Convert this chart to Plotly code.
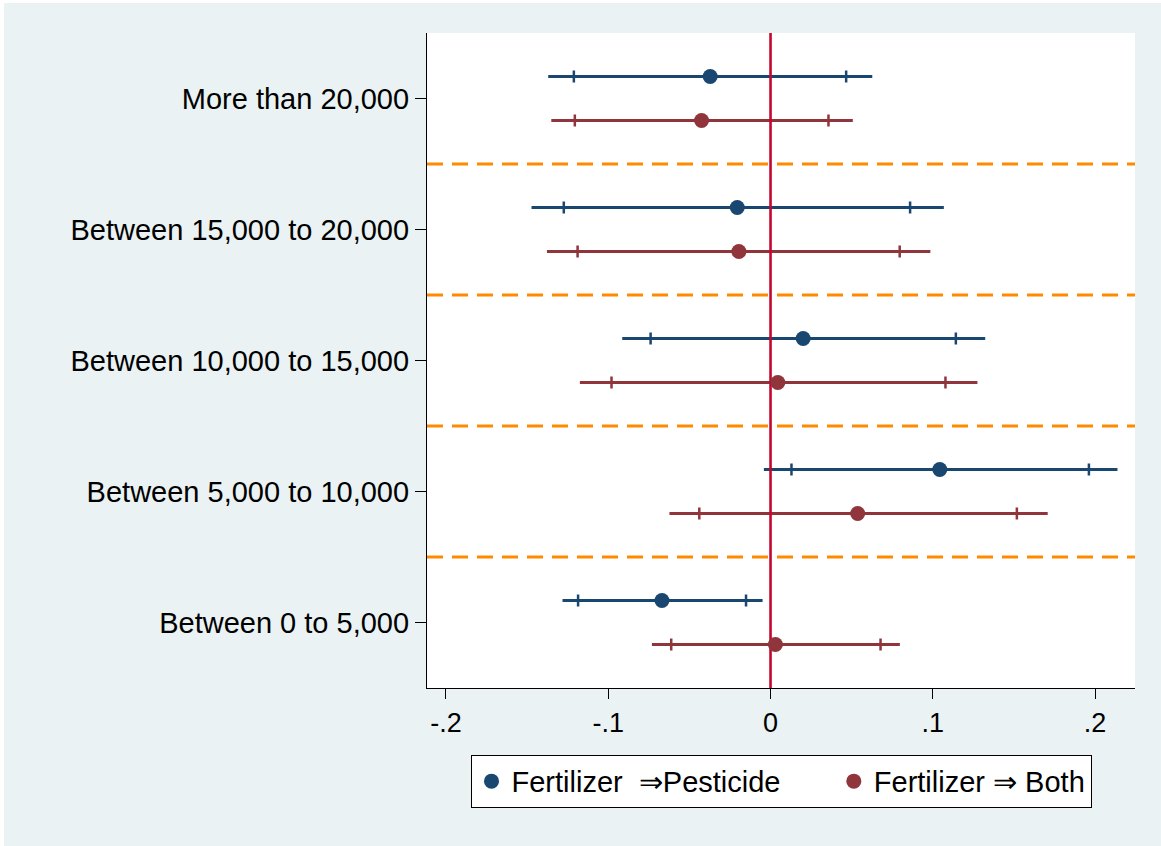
import plotly.graph_objects as go

# Income groups (bottom to top) and their axis positions
groups = ["Between 0 to 5,000", "Between 5,000 to 10,000", "Between 10,000 to 15,000",
          "Between 15,000 to 20,000", "More than 20,000"]
ypos = [1, 2, 3, 4, 5]

# Fertilizer => Pesticide: point estimate, 95% and 90% confidence bounds
pest_est = [-0.0669, 0.1043, 0.0201, -0.0205, -0.0372]
pest_lo95 = [-0.1282, -0.0041, -0.0914, -0.1473, -0.1370]
pest_hi95 = [-0.0049, 0.2138, 0.1323, 0.1068, 0.0627]
pest_lo90 = [-0.1186, 0.0129, -0.0739, -0.1274, -0.1212]
pest_hi90 = [-0.0151, 0.1962, 0.1142, 0.0860, 0.0466]

# Fertilizer => Both
both_est = [0.0030, 0.0537, 0.0045, -0.0195, -0.0425]
both_lo95 = [-0.0731, -0.0623, -0.1175, -0.1378, -0.1351]
both_hi95 = [0.0797, 0.1708, 0.1275, 0.0985, 0.0507]
both_lo90 = [-0.0612, -0.0439, -0.0980, -0.1189, -0.1206]
both_hi90 = [0.0678, 0.1518, 0.1078, 0.0796, 0.0357]

x_ticks = [-0.2, -0.1, 0, 0.1, 0.2]
x_ticktext = ["-.2", "-.1", "0", ".1", ".2"]

BLUE = "#1a476f"
RED = "#90353b"
OFFSET = 0.168
FONT = "Liberation Sans, Arial, sans-serif"

fig = go.Figure()


def add_series(est, lo95, hi95, lo90, hi90, color, shift):
    y = [p + shift for p in ypos]
    # 95% interval: plain line
    fig.add_trace(go.Scatter(
        x=est, y=y, mode="none", showlegend=False, hoverinfo="skip",
        error_x=dict(type="data", symmetric=False,
                     array=[h - e for h, e in zip(hi95, est)],
                     arrayminus=[e - l for e, l in zip(est, lo95)],
                     color=color, thickness=3, width=0)))
    # 90% interval: capped with short vertical ticks
    fig.add_trace(go.Scatter(
        x=est, y=y, mode="none", showlegend=False, hoverinfo="skip",
        error_x=dict(type="data", symmetric=False,
                     array=[h - e for h, e in zip(hi90, est)],
                     arrayminus=[e - l for e, l in zip(est, lo90)],
                     color=color, thickness=2.5, width=6)))
    return y


y_pest = add_series(pest_est, pest_lo95, pest_hi95, pest_lo90, pest_hi90, BLUE, OFFSET)
y_both = add_series(both_est, both_lo95, both_hi95, both_lo90, both_hi90, RED, -OFFSET)

# Reference line at zero
fig.add_trace(go.Scatter(x=[0, 0], y=[0.5, 5.5], mode="lines", showlegend=False,
                         hoverinfo="skip", line=dict(color="#C4072F", width=2.6)))

# Point estimates (trailing spaces widen the gap between the two legend entries)
fig.add_trace(go.Scatter(x=pest_est, y=y_pest, mode="markers",
                         name="Fertilizer  ⇒Pesticide      ",
                         marker=dict(color=BLUE, size=15)))
fig.add_trace(go.Scatter(x=both_est, y=y_both, mode="markers", name="Fertilizer ⇒ Both",
                         marker=dict(color=RED, size=15)))

# Dashed separators between groups
shapes = []
for b in [1.5, 2.5, 3.5, 4.5]:
    shapes.append(dict(type="line", xref="paper", yref="y", x0=0, x1=1, y0=b, y1=b,
                       line=dict(color="#FF8A00", width=3, dash="16px,9px"), layer="below"))

# Thin white edge along the top and left of the canvas
shapes.append(dict(type="rect", xref="paper", yref="paper", x0=-0.6031, x1=1.04,
                   y0=1.0458, y1=1.06, fillcolor="white", line=dict(width=0), layer="below"))
shapes.append(dict(type="rect", xref="paper", yref="paper", x0=-0.61, x1=-0.5975,
                   y0=-0.25, y1=1.06, fillcolor="white", line=dict(width=0), layer="below"))

fig.update_layout(
    width=1161, height=846,
    margin=dict(l=427, r=26, t=33, b=158),
    paper_bgcolor="#EAF2F3",
    plot_bgcolor="white",
    font=dict(family=FONT, size=29, color="black"),
    shapes=shapes,
    showlegend=True,
    legend=dict(orientation="h", x=0.5, xanchor="center", y=-0.102, yanchor="top",
                bgcolor="white", bordercolor="black", borderwidth=1,
                font=dict(family=FONT, size=29, color="black"),
                itemwidth=30),
    xaxis=dict(range=[-0.2117, 0.2246], tickvals=x_ticks, ticktext=x_ticktext,
               showgrid=False, zeroline=False, showline=True, linecolor="black", linewidth=1.2,
               ticks="outside", ticklen=10, tickcolor="black", tickwidth=1.2,
               tickfont=dict(family=FONT, size=27, color="black")),
    yaxis=dict(range=[0.5, 5.5], tickvals=ypos, ticktext=groups,
               showgrid=False, zeroline=False, showline=True, linecolor="black", linewidth=1.2,
               ticks="outside", ticklen=11, tickcolor="black", tickwidth=1.2,
               tickfont=dict(family=FONT, size=29, color="black")),
)

fig.write_html("out.html")
